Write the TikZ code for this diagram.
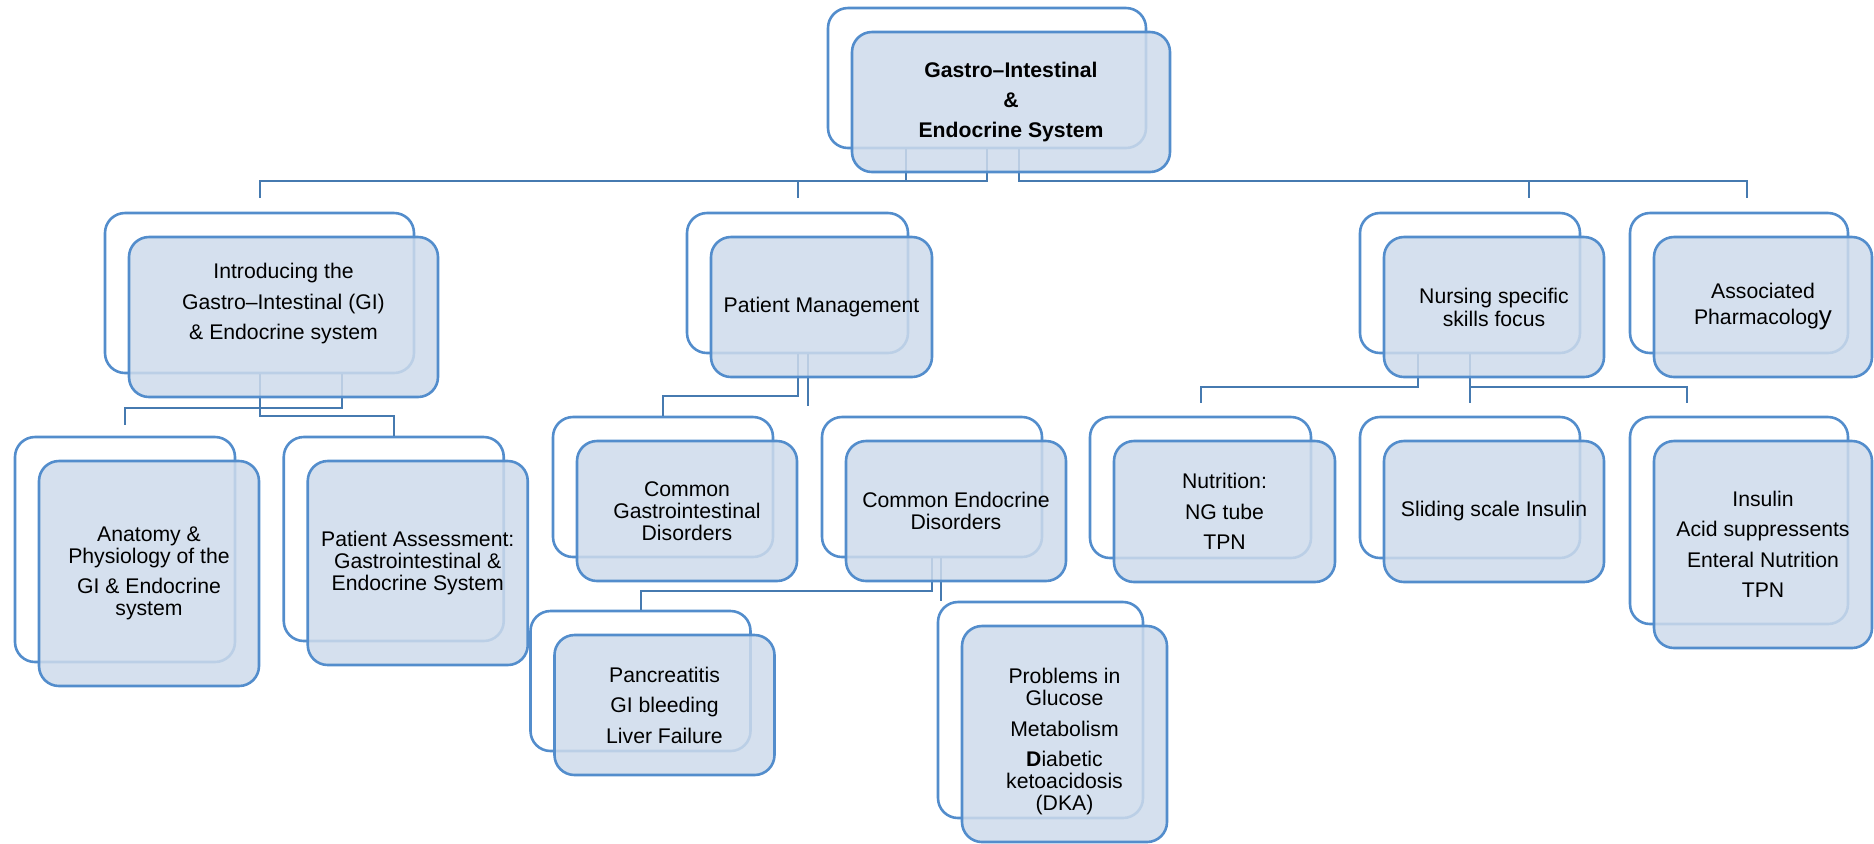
\documentclass[tikz,border=0pt]{standalone}
\usepackage{fontspec}
\setmainfont{Liberation Sans}
\definecolor{boxline}{RGB}{83,141,204}
\definecolor{linkline}{RGB}{70,122,176}
\definecolor{boxfill}{RGB}{206,219,235}
\usepackage{tikz}
\usetikzlibrary{positioning, calc}

\begin{document}
\begin{tikzpicture}[
    x=0.5pt, y=-0.5pt,
    boxsize/.style 2 args={minimum width=#1, minimum height=#2},
    frame/.style={draw=boxline, line width=1.3pt, rounded corners=10pt, inner sep=0pt},
    card/.style={frame, fill=boxfill, fill opacity=0.85, text opacity=1, align=center,
                 inner sep=3pt, font=\fontsize{10.6}{11}\selectfont},
    link/.style={draw=linkline, line width=1pt}
]
    \useasboundingbox (0,0) rectangle (1874,843);

    % Back frames
    \node[frame, boxsize={159pt}{70pt}] (rootbk) at (987,78) {};
    \node[frame, boxsize={154.5pt}{80pt}] (introbk) at (259.5,293) {};
    \node[frame, boxsize={110.5pt}{70pt}] (pmbk) at (797.5,283) {};
    \node[frame, boxsize={110pt}{70pt}] (nursebk) at (1470,283) {};
    \node[frame, boxsize={109pt}{70pt}] (pharmbk) at (1739,283) {};
    \node[frame, boxsize={110pt}{112.5pt}] (anatbk) at (125,549.5) {};
    \node[frame, boxsize={110pt}{102pt}] (assessbk) at (393.75,539) {};
    \node[frame, boxsize={110pt}{70pt}] (cgibk) at (663,487) {};
    \node[frame, boxsize={110pt}{70pt}] (cendbk) at (932,487) {};
    \node[frame, boxsize={110pt}{70pt}] (pancbk) at (640.5,681) {};
    \node[frame, boxsize={102.5pt}{108pt}] (probbk) at (1040.5,710) {};
    \node[frame, boxsize={110.5pt}{70.5pt}] (nutrbk) at (1200.5,487.5) {};
    \node[frame, boxsize={110pt}{70.5pt}] (slidebk) at (1470,487.5) {};
    \node[frame, boxsize={109pt}{103.5pt}] (drugsbk) at (1739,520.5) {};

    % Connectors
    \draw[link] ([xshift=-40.5pt]rootbk.south) |- ([yshift=15.5pt]introbk.north) -- ([yshift=7pt]introbk.north);
    \draw[link] (rootbk.south) |- ([yshift=15.5pt]pmbk.north) -- ([yshift=7pt]pmbk.north);
    \draw[link] ([xshift=16pt]rootbk.south) |- ([xshift=4pt,yshift=15.5pt]pharmbk.north) -- ([xshift=4pt,yshift=7pt]pharmbk.north);
    \draw[link] ([xshift=29.5pt,yshift=15.5pt]nursebk.north) -- ([xshift=29.5pt,yshift=7pt]nursebk.north);

    \draw[link] ([xshift=41.25pt]introbk.south) |- ([yshift=14pt]anatbk.north) -- ([yshift=5.5pt]anatbk.north);
    \draw[link] (introbk.south) |- ([yshift=10pt]assessbk.north) -- (assessbk.north);

    \draw[link] (pmbk.south) |- ([yshift=10pt]cgibk.north) -- (cgibk.north);
    \draw[link] ([xshift=5pt]pmbk.south) -- ++(0,52);

    \draw[link] (cendbk.south) |- ([yshift=9.5pt]pancbk.north) -- (pancbk.north);
    \draw[link] ([xshift=4.5pt]cendbk.south) -- ([xshift=4.5pt]cendbk.south |- probbk.north);

    \draw[link] ([xshift=-26pt]nursebk.south) |- ([yshift=14.25pt]nutrbk.north) -- ([yshift=6.25pt]nutrbk.north);
    \draw[link] (nursebk.south) -- ([yshift=6.25pt]slidebk.north);
    \draw[link] (nursebk.south) |- ([xshift=-26pt,yshift=14.25pt]drugsbk.north) -- ([xshift=-26pt,yshift=6.25pt]drugsbk.north);

    % Front cards
    \node[card, boxsize={159pt}{70pt}, font=\fontsize{10.6}{11}\selectfont\bfseries] (root) at ([shift={(24,24)}]rootbk)
        {Gastro–Intestinal\\[4pt] \&\\[4pt] Endocrine System};
    \node[card, boxsize={154.5pt}{80pt}] (intro) at ([shift={(24,24)}]introbk)
        {Introducing the\\[4.25pt] Gastro–Intestinal (GI)\\[4.25pt] \& Endocrine system\\[4.25pt]\mbox{}};
    \node[card, boxsize={110.5pt}{70pt}] (pm) at ([shift={(24,24)}]pmbk) {Patient Management};
    \node[card, boxsize={110pt}{70pt}] (nurse) at ([shift={(24,24)}]nursebk)
        {Nursing specific\\[0.5pt] skills focus};
    \node[card, boxsize={109pt}{70pt}] (pharm) at ([shift={(24,24)}]pharmbk)
        {Associated\\[2pt] Pharmacolog{\fontsize{13}{11}\selectfont y}};
    \node[card, boxsize={110pt}{112.5pt}] (anat) at ([shift={(24,24)}]anatbk)
        {Anatomy \&\\ Physiology of the\\[4.25pt] GI \& Endocrine\\ system};
    \node[card, boxsize={110pt}{102pt}] (assess) at ([shift={(24,24)}]assessbk)
        {Patient Assessment:\\ Gastrointestinal \&\\ Endocrine System};
    \node[card, boxsize={110pt}{70pt}] (cgi) at ([shift={(24,24)}]cgibk)
        {Common\\ Gastrointestinal\\ Disorders};
    \node[card, boxsize={110pt}{70pt}] (cend) at ([shift={(24,24)}]cendbk)
        {Common Endocrine\\ Disorders};
    \node[card, boxsize={110pt}{70pt}] (panc) at ([shift={(24,24)}]pancbk)
        {Pancreatitis\\[4.25pt] GI bleeding\\[4.25pt] Liver Failure};
    \node[card, boxsize={102.5pt}{108pt}] (prob) at ([shift={(24,24)}]probbk)
        {\mbox{}\\[4.25pt] Problems in\\ Glucose\\[4.25pt] Metabolism\\[4.25pt] {\bfseries D}iabetic\\ ketoacidosis\\ (DKA)};
    \node[card, boxsize={110.5pt}{70.5pt}] (nutr) at ([shift={(24,24)}]nutrbk)
        {Nutrition:\\[4.25pt] NG tube\\[4.25pt] TPN};
    \node[card, boxsize={110pt}{70.5pt}] (slide) at ([shift={(24,24)}]slidebk) {Sliding scale Insulin};
    \node[card, boxsize={109pt}{103.5pt}] (drugs) at ([shift={(24,24)}]drugsbk)
        {Insulin\\[4.25pt] Acid suppressents\\[4.25pt] Enteral Nutrition\\[4.25pt] TPN};
\end{tikzpicture}
\end{document}
